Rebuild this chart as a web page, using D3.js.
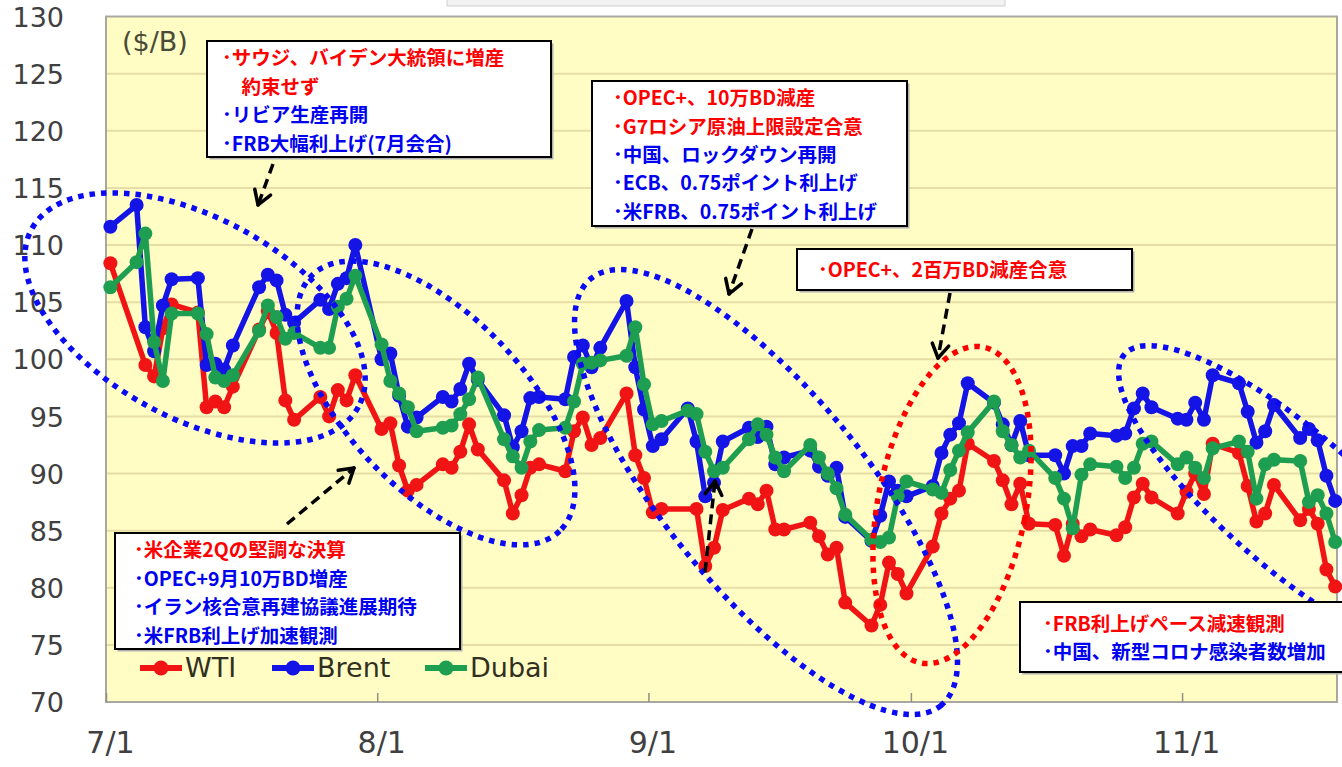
<!DOCTYPE html>
<html><head><meta charset="utf-8">
<script src="https://cdn.jsdelivr.net/npm/d3@7"></script>
<style>
html,body{margin:0;padding:0;background:#fff;}
svg{display:block;}
</style></head>
<body>
<svg id="c" width="1342" height="767"></svg>
<script>
// ---------- data ----------
const dates = [
"2022-07-01","2022-07-04","2022-07-05","2022-07-06","2022-07-07","2022-07-08","2022-07-11","2022-07-12","2022-07-13","2022-07-14","2022-07-15","2022-07-18","2022-07-19","2022-07-20","2022-07-21","2022-07-22","2022-07-25","2022-07-26","2022-07-27","2022-07-28","2022-07-29",
"2022-08-01","2022-08-02","2022-08-03","2022-08-04","2022-08-05","2022-08-08","2022-08-09","2022-08-10","2022-08-11","2022-08-12","2022-08-15","2022-08-16","2022-08-17","2022-08-18","2022-08-19","2022-08-22","2022-08-23","2022-08-24","2022-08-25","2022-08-26","2022-08-29","2022-08-30","2022-08-31",
"2022-09-01","2022-09-02","2022-09-05","2022-09-06","2022-09-07","2022-09-08","2022-09-09","2022-09-12","2022-09-13","2022-09-14","2022-09-15","2022-09-16","2022-09-19","2022-09-20","2022-09-21","2022-09-22","2022-09-23","2022-09-26","2022-09-27","2022-09-28","2022-09-29","2022-09-30",
"2022-10-03","2022-10-04","2022-10-05","2022-10-06","2022-10-07","2022-10-10","2022-10-11","2022-10-12","2022-10-13","2022-10-14","2022-10-17","2022-10-18","2022-10-19","2022-10-20","2022-10-21","2022-10-24","2022-10-25","2022-10-26","2022-10-27","2022-10-28","2022-10-31",
"2022-11-01","2022-11-02","2022-11-03","2022-11-04","2022-11-07","2022-11-08","2022-11-09","2022-11-10","2022-11-11","2022-11-14","2022-11-15","2022-11-16","2022-11-17","2022-11-18"];

const wti = [
108.4,null,99.5,98.5,102.7,104.8,104.1,95.8,96.3,95.8,97.6,102.6,104.2,102.3,96.4,94.7,96.7,95.0,97.3,96.4,98.6,
93.9,94.4,90.7,88.5,89.0,90.8,90.5,91.9,94.3,92.1,89.4,86.5,88.1,90.5,90.8,90.2,93.7,94.9,92.5,93.1,97.0,91.6,89.6,
86.6,86.9,null,86.9,81.9,83.5,86.8,87.8,87.3,88.5,85.1,85.1,85.7,84.5,82.9,83.5,78.7,76.7,78.5,82.2,81.2,79.5,
83.6,86.5,87.8,88.5,92.6,91.1,89.4,87.3,89.1,85.6,85.5,82.8,85.6,84.5,85.1,84.6,85.3,87.9,89.1,87.9,86.5,
88.4,90.0,88.2,92.6,91.8,88.9,85.8,86.5,89.0,85.9,86.9,85.6,81.6,80.1];

const brent = [
111.6,113.5,102.8,100.7,104.7,107.0,107.1,99.5,99.6,99.1,101.2,106.3,107.4,106.9,103.9,103.2,105.2,104.4,106.6,107.1,110.0,
100.0,100.5,96.8,94.1,94.9,96.7,96.3,97.4,99.6,98.2,95.1,92.3,93.7,96.6,96.7,96.5,100.2,101.2,99.3,101.0,105.1,99.3,95.6,
92.4,93.0,95.7,92.8,88.0,89.2,92.8,94.0,93.2,94.1,90.8,91.4,92.0,90.6,89.8,90.5,86.2,84.1,86.3,89.3,88.5,88.0,
88.9,91.8,93.4,94.4,97.9,96.2,94.3,92.5,94.6,91.6,91.6,90.0,92.4,92.4,93.5,93.3,93.5,95.7,97.0,95.8,94.8,
94.7,96.2,94.7,98.6,97.9,95.4,92.7,93.7,96.0,93.1,93.9,92.9,89.8,87.6];

const dubai = [
106.3,108.5,111.0,101.5,98.1,104.0,104.0,102.2,98.4,98.1,98.6,102.5,104.7,103.7,101.8,102.3,101.0,101.0,104.6,105.3,107.3,
101.3,98.1,97.0,95.8,93.7,94.0,94.2,95.2,96.5,98.4,93.0,91.5,90.5,92.8,93.8,94.0,96.3,99.6,99.7,99.9,100.3,102.8,97.8,
94.3,94.6,95.5,95.2,91.9,90.2,90.5,93.0,94.3,93.4,91.4,90.2,92.5,91.4,90.0,88.7,86.4,84.2,84.0,84.4,88.0,89.3,
88.6,88.3,90.3,92.0,93.6,96.3,93.7,92.5,91.4,92.0,89.6,87.8,85.2,89.9,90.8,90.6,89.6,90.5,92.6,92.8,90.8,
91.4,90.5,89.6,92.2,92.8,91.9,87.8,90.8,91.2,91.1,87.5,88.1,86.5,84.0];

const seriesNames = ["WTI","Brent","Dubai"];
const yTicks = [70,75,80,85,90,95,100,105,110,115,120,125,130];
const xTickLabels = ["2022-07-01","2022-08-01","2022-09-01","2022-10-01","2022-11-01"];

const notesA = [["･サウジ、バイデン大統領に増産","r"],["　約束せず","r"],["･リビア生産再開","b"],["･FRB大幅利上げ(7月会合)","b"]];
const notesB = [["･OPEC+、10万BD減産","r"],["･G7ロシア原油上限設定合意","r"],["･中国、ロックダウン再開","b"],["･ECB、0.75ポイント利上げ","b"],["･米FRB、0.75ポイント利上げ","b"]];
const notesC = [["･OPEC+、2百万BD減産合意","r"]];
const notesD = [["･米企業2Qの堅調な決算","r"],["･OPEC+9月10万BD増産","b"],["･イラン核合意再建協議進展期待","b"],["･米FRB利上げ加速観測","b"]];
const notesE = [["･FRB利上げペース減速観測","r"],["･中国、新型コロナ感染者数増加","b"]];

// ---------- layout ----------
const L=106, R=1337, T=16.5, B=702;
const colors = {WTI:"#f01414", Brent:"#1414e6", Dubai:"#1e9e50"};
const txtCol = {r:"#ff0000", b:"#0000f0"};

const svg = d3.select("#c");
const parse = d3.timeParse("%Y-%m-%d");
const x = d3.scaleTime().domain([new Date(2022,6,1), new Date(2022,10,18,17)]).range([L,R]);
const y = d3.scaleLinear().domain([70,130]).range([B,T]);
const xd = s => x(d3.timeHour.offset(parse(s),12));

// faint header box at top
svg.append("rect").attr("x",447).attr("y",-4).attr("width",558).attr("height",10)
  .attr("fill","#f2f2f2").attr("stroke","#cfcfcf");

// plot background
svg.append("rect").attr("x",L).attr("y",T).attr("width",R-L).attr("height",B-T).attr("fill","#fffcc4");

// gridlines
svg.append("g").selectAll("line").data(yTicks.filter(v=>v>70&&v<130)).join("line")
  .attr("x1",L).attr("x2",R).attr("y1",d=>y(d)).attr("y2",d=>y(d))
  .attr("stroke","#e6dea6").attr("stroke-width",2);

// frame
svg.append("rect").attr("x",L).attr("y",T).attr("width",R-L).attr("height",B-T)
  .attr("fill","none").attr("stroke","#a8a8a0").attr("stroke-width",2);

// y axis labels
const yAxis = d3.axisLeft(y).tickValues(yTicks).tickSize(0).tickPadding(0);
const gy = svg.append("g").attr("transform","translate(64,0)").call(yAxis);
gy.select(".domain").remove();
gy.selectAll("text").attr("font-family","DejaVu Sans").attr("font-size",27).attr("fill","#404040").attr("dy","0.36em");

// x axis
const xAxis = d3.axisBottom(x).tickValues(xTickLabels.map(parse)).tickFormat(d3.timeFormat("%-m/%-d")).tickSize(-9).tickPadding(36);
const gx = svg.append("g").attr("transform",`translate(0,${B})`).call(xAxis);
gx.select(".domain").remove();
gx.selectAll("line").attr("stroke","#909088").attr("stroke-width",1.5);
gx.selectAll("text").attr("font-family","DejaVu Sans").attr("font-size",30).attr("fill","#404040").attr("dx","4").attr("dy","0.5em");

// unit
svg.append("text").attr("x",122).attr("y",51).text("($/B)")
  .attr("font-family","DejaVu Sans").attr("font-size",27).attr("fill","#4a4a38");

// series
const seriesVals = [wti, brent, dubai];
const line = d3.line().x(d=>d[0]).y(d=>d[1]);
seriesNames.forEach((name,i)=>{
  const pts = dates.map((d,j)=>[d,seriesVals[i][j]]).filter(p=>p[1]!=null).map(p=>[xd(p[0]),y(p[1])]);
  const g = svg.append("g");
  g.append("path").attr("d",line(pts)).attr("fill","none").attr("stroke",colors[name])
    .attr("stroke-width",5.5).attr("stroke-linejoin","round");
  g.selectAll("circle").data(pts).join("circle").attr("cx",d=>d[0]).attr("cy",d=>d[1]).attr("r",7)
    .attr("fill",colors[name]);
});

// dotted ellipses
const ell = [
  {cx:195,cy:318,rx:186,ry:100,a:28.6,c:"#0a0af5"},
  {cx:436,cy:403,rx:178,ry:88,a:46,c:"#0a0af5"},
  {cx:766,cy:492,rx:276,ry:100,a:50.6,c:"#0a0af5"},
  {cx:952,cy:505,rx:74,ry:161,a:11.2,c:"#ff0000"},
  {cx:1292,cy:500,rx:222,ry:68,a:41,c:"#0a0af5"}
];
svg.append("g").selectAll("ellipse").data(ell).join("ellipse")
  .attr("cx",0).attr("cy",0).attr("rx",d=>d.rx).attr("ry",d=>d.ry)
  .attr("transform",d=>`translate(${d.cx},${d.cy}) rotate(${d.a})`)
  .attr("fill","none").attr("stroke",d=>d.c).attr("stroke-width",5.5).attr("stroke-dasharray","5.5 6");

// legend
const leg = [{n:"WTI",x:140},{n:"Brent",x:272},{n:"Dubai",x:425}];
const lg = svg.append("g");
leg.forEach(l=>{
  lg.append("line").attr("x1",l.x).attr("x2",l.x+42).attr("y1",668).attr("y2",668).attr("stroke",colors[l.n]).attr("stroke-width",6);
  lg.append("circle").attr("cx",l.x+21).attr("cy",668).attr("r",7.5).attr("fill",colors[l.n]);
  lg.append("text").attr("x",l.x+45).attr("y",677).text(l.n).attr("font-family","DejaVu Sans").attr("font-size",27).attr("fill","#303020");
});

// boxes
const FS = 19.5, LH = 28.4;
function box(x0,y0,w,h,lines,tx,cy){
  const g = svg.append("g");
  g.append("rect").attr("x",x0+2.5).attr("y",y0+2.5).attr("width",w).attr("height",h).attr("fill","#b0b0b0");
  g.append("rect").attr("x",x0).attr("y",y0).attr("width",w).attr("height",h).attr("fill","#fff").attr("stroke","#000").attr("stroke-width",2);
  const n = lines.length, top = cy - (n-1)*LH/2;
  g.selectAll("text").data(lines).join("text").attr("x",tx).attr("y",(d,i)=>top+i*LH+7).text(d=>d[0])
    .attr("fill",d=>txtCol[d[1]]).attr("font-family","Noto Sans CJK JP").attr("font-weight","bold").attr("font-size",FS);
}
box(207,41,344,116,notesA,222,101);
box(592,81,315,145,notesB,613,155);
box(797,249,335,41,notesC,818,270);
box(115,533,345,116,notesD,134,593);
box(1020,602,330,70,notesE,1043,638);

// dashed arrows
const arrows = [[273,164,258,205],[752,229,729,294],[950,293,938,358],[287,524,354,468],[705,572,715,481]];
const ag = svg.append("g");
arrows.forEach(([x1,y1,x2,y2])=>{
  ag.append("line").attr("x1",x1).attr("y1",y1).attr("x2",x2).attr("y2",y2).attr("stroke","#000").attr("stroke-width",3.5).attr("stroke-dasharray","10 6");
  const ang = Math.atan2(y2-y1,x2-x1), len=16;
  [0.55,-0.55].forEach(s=>{
    ag.append("line").attr("x1",x2).attr("y1",y2)
      .attr("x2",x2-len*Math.cos(ang+s)).attr("y2",y2-len*Math.sin(ang+s))
      .attr("stroke","#000").attr("stroke-width",3.5).attr("stroke-linecap","round");
  });
});
</script>
</body></html>
